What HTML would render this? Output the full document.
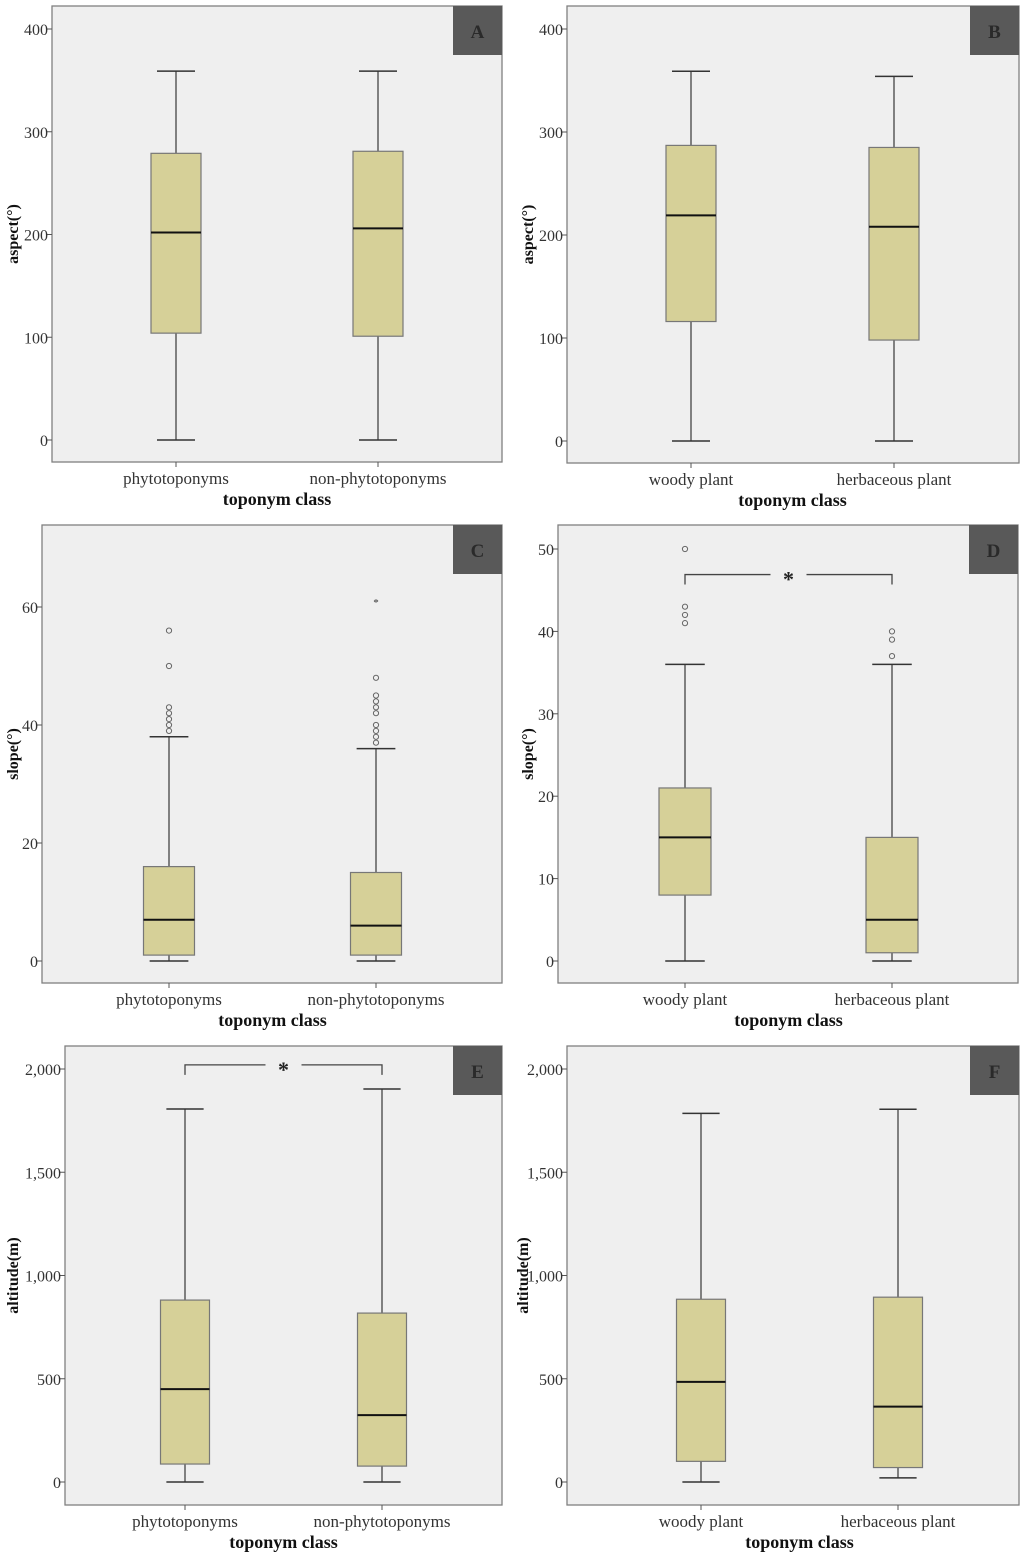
<!DOCTYPE html>
<html><head><meta charset="utf-8">
<style>
html,body{margin:0;padding:0;background:#fff;}
svg{display:block;font-family:"Liberation Serif",serif;}
</style></head>
<body>
<svg id="fig" width="1024" height="1557" viewBox="0 0 1024 1557"></svg>
<script>
// ---- data (five-number summaries: min, q1, median, q3, max) ----
const panelLetters = ["A","B","C","D","E","F"];
const yTitles = ["aspect(°)","aspect(°)","slope(°)","slope(°)","altitude(m)","altitude(m)"];
const categoriesToponym = ["phytotoponyms","non-phytotoponyms"];
const categoriesPlant = ["woody plant","herbaceous plant"];
const ticksAspect = [0,100,200,300,400];
const ticksSlopeC = [0,20,40,60];
const ticksSlopeD = [0,10,20,30,40,50];
const ticksAltitude = [0,500,1000,1500,2000];
const statsA = [[0,104,202,279,359],[0,101,206,281,359]];
const statsB = [[0,116,219,287,359],[0,98,208,285,354]];
const statsC = [[0,1,7,16,38],[0,1,6,15,36]];
const statsD = [[0,8,15,21,36],[0,1,5,15,36]];
const statsE = [[0,87,450,881,1806],[0,77,324,818,1903]];
const statsF = [[0,100,485,885,1785],[20,70,365,895,1805]];
const outliersC1 = [56,50,43,42,41,40,39];
const outliersC2 = [48,45,44,43,42,40,39,38,37];
const extremesC2 = [61];
const outliersD1 = [50,43,42,41];
const outliersD2 = [40,39,37];
const bracketD = 46.9;
const bracketE = 2020;

// ---- layout ----
const layouts = [
  {x0:52,x1:502,y0:6,y1:462,yZero:440,yMaxPx:29,vmax:400,cx:[176,378],bw:50,ytx:12},
  {x0:567,x1:1019,y0:6,y1:463,yZero:441,yMaxPx:29,vmax:400,cx:[691,894],bw:50,ytx:527},
  {x0:42,x1:502,y0:525,y1:983,yZero:961,yMaxPx:607,vmax:60,cx:[169,376],bw:51,ytx:12},
  {x0:558,x1:1018,y0:525,y1:983,yZero:961,yMaxPx:549,vmax:50,cx:[685,892],bw:52,ytx:527},
  {x0:65,x1:502,y0:1046,y1:1505,yZero:1482,yMaxPx:1069,vmax:2000,cx:[185,382],bw:49,ytx:12},
  {x0:567,x1:1019,y0:1046,y1:1505,yZero:1482,yMaxPx:1069,vmax:2000,cx:[701,898],bw:49,ytx:522}
];
const panelStats = [statsA,statsB,statsC,statsD,statsE,statsF];
const panelTicks = [ticksAspect,ticksAspect,ticksSlopeC,ticksSlopeD,ticksAltitude,ticksAltitude];
const panelCats = [categoriesToponym,categoriesPlant,categoriesToponym,categoriesPlant,categoriesToponym,categoriesPlant];
const panelOutliers = [[[],[]],[[],[]],[outliersC1,outliersC2],[outliersD1,outliersD2],[[],[]],[[],[]]];
const panelExtremes = [[[],[]],[[],[]],[[],extremesC2],[[],[]],[[],[]],[[],[]]];
const panelBracket = [null,null,null,bracketD,bracketE,null];

const NS = "http://www.w3.org/2000/svg";
const svg = document.getElementById("fig");
function mk(tag, attrs, parent, text){
  const e = document.createElementNS(NS, tag);
  for (const k in attrs) e.setAttribute(k, attrs[k]);
  if (text !== undefined) e.textContent = text;
  (parent||svg).appendChild(e);
  return e;
}
function fmt(v){ return v.toLocaleString("en-US"); }

layouts.forEach((L, p) => {
  const g = mk("g", {});
  
  
  const y = v => L.yZero - (v / L.vmax) * (L.yZero - L.yMaxPx);

  const bg = mk("rect", {x:L.x0, y:L.y0, width:L.x1-L.x0, height:L.y1-L.y0, fill:"#efefef", stroke:"#808080", "stroke-width":1.3}, g);
  
  

  panelTicks[p].forEach(t => {
    const ty = y(t);
    const tk = mk("line", {x1:L.x0-5, x2:L.x0, y1:ty, y2:ty, stroke:"#555", "stroke-width":1}, g);
    
    
    const tl = mk("text", {x:L.x0-4, y:ty+6, "text-anchor":"end", "font-size":16, fill:"#333"}, g, fmt(t));
    
    
  });

  const ymid = (L.y0 + L.y1) / 2;
  const yt = mk("text", {x:L.ytx+6, y:ymid, transform:`rotate(-90 ${L.ytx+6} ${ymid})`, "text-anchor":"middle", "font-size":16, "font-weight":"bold", fill:"#111"}, g, yTitles[p]);
  
  

  panelCats[p].forEach((c, i) => {
    const cx = L.cx[i];
    const tk = mk("line", {x1:cx, x2:cx, y1:L.y1, y2:L.y1+5, stroke:"#555"}, g);
    
    
    const tl = mk("text", {x:cx, y:L.y1+22, "text-anchor":"middle", "font-size":17, fill:"#333"}, g, c);
    
    
  });
  const xt = mk("text", {x:(L.cx[0]+L.cx[1])/2, y:L.y1+43, "text-anchor":"middle", "font-size":18, "font-weight":"bold", fill:"#111"}, g, "toponym class");
  
  

  panelStats[p].forEach((s, i) => {
    const cx = L.cx[i], hw = L.bw/2, cap = L.bw*0.38;
    const bx = mk("g", {}, g);
    
    
    mk("line", {x1:cx, x2:cx, y1:y(s[0]), y2:y(s[1]), stroke:"#444", "stroke-width":1.3}, bx);
    mk("line", {x1:cx, x2:cx, y1:y(s[3]), y2:y(s[4]), stroke:"#444", "stroke-width":1.3}, bx);
    mk("line", {x1:cx-cap, x2:cx+cap, y1:y(s[0]), y2:y(s[0]), stroke:"#333", "stroke-width":1.5}, bx);
    mk("line", {x1:cx-cap, x2:cx+cap, y1:y(s[4]), y2:y(s[4]), stroke:"#333", "stroke-width":1.5}, bx);
    mk("rect", {x:cx-hw, y:y(s[3]), width:L.bw, height:y(s[1])-y(s[3]), fill:"#d6d098", stroke:"#777", "stroke-width":1.2}, bx);
    mk("line", {x1:cx-hw, x2:cx+hw, y1:y(s[2]), y2:y(s[2]), stroke:"#111", "stroke-width":2}, bx);
    panelOutliers[p][i].forEach(o => {
      const c = mk("circle", {cx:cx, cy:y(o), r:2.6, fill:"none", stroke:"#666", "stroke-width":1}, bx);
      
      
    });
    panelExtremes[p][i].forEach(o => {
      const t = mk("text", {x:cx, y:y(o)+5, "text-anchor":"middle", "font-size":11, fill:"#333"}, bx, "*");
      
      
    });
  });

  if (panelBracket[p] !== null) {
    const by = y(panelBracket[p]);
    const a = L.cx[0], b = L.cx[1], m = (a+b)/2;
    const br = mk("g", {}, g);
    
    
    mk("path", {d:`M${a} ${by+10} V${by} H${m-18} M${m+18} ${by} H${b} V${by+10}`, fill:"none", stroke:"#444", "stroke-width":1.3}, br);
    mk("text", {x:m, y:by+12, "text-anchor":"middle", "font-size":22, "font-weight":"bold", fill:"#222"}, br, "*");
  }

  const lb = mk("g", {}, g);
  
  
  mk("rect", {x:L.x1-49, y:L.y0, width:49, height:49, fill:"#595959"}, lb);
  mk("text", {x:L.x1-24.5, y:L.y0+32, "text-anchor":"middle", "font-size":19, "font-weight":"bold", fill:"#2a2a2a"}, lb, panelLetters[p]);
});
</script>
</body></html>
